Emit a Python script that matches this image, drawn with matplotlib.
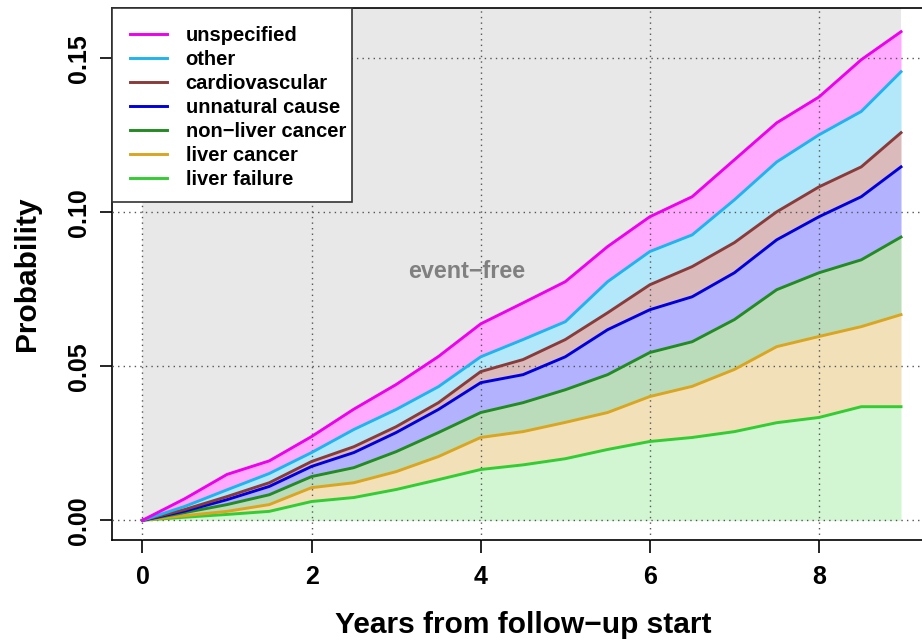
import matplotlib
matplotlib.use("Agg")
import matplotlib.pyplot as plt
from matplotlib.patches import Rectangle
import numpy as np

plt.rcParams['font.family'] = ['Liberation Sans', 'DejaVu Sans']
plt.rcParams['font.weight'] = 'bold'

years = [0, 0.5, 1, 1.5, 2, 2.5, 3, 3.5, 4, 4.5, 5, 5.5, 6, 6.5, 7, 7.5, 8, 8.5, 8.97]

# cumulative (stacked) probabilities, top of each band
liver_failure = [0, 0.0010, 0.0019, 0.0029, 0.0061, 0.0074, 0.0100, 0.0132, 0.0165, 0.0180, 0.0200,
                 0.0230, 0.0256, 0.0269, 0.0288, 0.0317, 0.0334, 0.0369, 0.0369]
liver_cancer = [0, 0.0015, 0.0029, 0.0051, 0.0106, 0.0122, 0.0158, 0.0207, 0.0269, 0.0288, 0.0318,
                0.0350, 0.0402, 0.0435, 0.0490, 0.0564, 0.0597, 0.0629, 0.0668]
non_liver_cancer = [0, 0.0025, 0.0051, 0.0083, 0.0142, 0.0171, 0.0223, 0.0285, 0.0350, 0.0382, 0.0424,
                    0.0473, 0.0545, 0.0580, 0.0652, 0.0749, 0.0804, 0.0846, 0.0920]
unnatural = [0, 0.0030, 0.0067, 0.0110, 0.0175, 0.0220, 0.0285, 0.0360, 0.0447, 0.0473, 0.0531,
             0.0619, 0.0684, 0.0726, 0.0804, 0.0911, 0.0986, 0.1051, 0.1148]
cardiovascular = [0, 0.0035, 0.0077, 0.0122, 0.0191, 0.0239, 0.0304, 0.0382, 0.0483, 0.0522, 0.0587,
                  0.0674, 0.0765, 0.0824, 0.0902, 0.1002, 0.1083, 0.1148, 0.1259]
other = [0, 0.0045, 0.0099, 0.0152, 0.0220, 0.0295, 0.0360, 0.0434, 0.0531, 0.0587, 0.0645,
         0.0775, 0.0873, 0.0927, 0.1041, 0.1164, 0.1252, 0.1328, 0.1457]
unspecified = [0, 0.0070, 0.0149, 0.0193, 0.0272, 0.0361, 0.0441, 0.0532, 0.0638, 0.0706, 0.0775,
               0.0889, 0.0986, 0.1051, 0.1171, 0.1291, 0.1375, 0.1496, 0.1587]

labels = ['liver failure', 'liver cancer', 'non\u2212liver cancer', 'unnatural cause',
          'cardiovascular', 'other', 'unspecified']
series = [liver_failure, liver_cancer, non_liver_cancer, unnatural, cardiovascular, other, unspecified]
line_colors = ['#32CD32', '#DAA520', '#228B22', '#0000DD', '#8B3A3A', '#1EB4EE', '#EE00EE']
fill_colors = ['#D2F5D2', '#F2E0B8', '#BADCBA', '#B2B2FF', '#DABABA', '#B2E8FA', '#FFAAFF']

x_ticks = [0, 2, 4, 6, 8]
y_ticks = [0.00, 0.05, 0.10, 0.15]
y_tick_labels = ['0.00', '0.05', '0.10', '0.15']

fig = plt.figure(figsize=(9.22, 6.41), dpi=100)
ax = fig.add_axes([112/922, 101/641, 822/922, 532/641])
ax.set_xlim(-0.36, 9.36)
ax.set_ylim(-0.0064, 0.1664)

t = np.array(years)
lower = np.zeros_like(t)
# event-free region
ax.fill_between(t, np.array(unspecified), 1.0, color='#E8E8E8', lw=0, zorder=1)
for s, fc in zip(series, fill_colors):
    s = np.array(s)
    ax.fill_between(t, lower, s, color=fc, lw=0, zorder=2)
    lower = s

# grid (dotted, on top of fills)
for xv in x_ticks:
    ax.axvline(xv, color='#555555', lw=1.0, ls=(0, (1, 3)), zorder=3)
for yv in y_ticks:
    ax.axhline(yv, color='#555555', lw=1.0, ls=(0, (1, 3)), zorder=3)

handles = []
for s, lc, lab in zip(series, line_colors, labels):
    h, = ax.plot(t, s, color=lc, lw=2.1, zorder=4, label=lab, solid_joinstyle='miter')
    handles.append(h)

ax.text(3.84, 0.0807, 'event\u2212free', color='#808080', fontsize=16.8, fontweight='bold',
        ha='center', va='center', zorder=5)

ax.set_xticks(x_ticks)
ax.set_xticklabels([str(v) for v in x_ticks])
ax.set_yticks(y_ticks)
ax.set_yticklabels(y_tick_labels, rotation=90, va='center')
ax.tick_params(axis='both', direction='out', length=9, width=1.2, labelsize=18, pad=9)
ax.tick_params(axis='y', pad=6)

for sp in ['left', 'bottom', 'top']:
    ax.spines[sp].set_linewidth(1.2)
ax.spines['right'].set_visible(False)

ax.set_xlabel('Years from follow\u2212up start', fontsize=21.5, fontweight='bold', labelpad=16)
ax.set_ylabel('Probability', fontsize=21.5, fontweight='bold', labelpad=19)

# legend box (R-style, tight right padding)
box = Rectangle((0, 1 - 194/532), 240/822, 194/532, transform=ax.transAxes,
                facecolor='white', edgecolor='#333333', lw=1.2, zorder=9, clip_on=False)
ax.add_patch(box)
leg = ax.legend(handles[::-1], labels[::-1], loc='upper left', bbox_to_anchor=(0, 1),
                borderaxespad=0, frameon=False,
                prop={'size': 14.5, 'weight': 'bold'}, handlelength=1.85, handletextpad=0.9,
                labelspacing=0.25, borderpad=0.9)
leg.set_zorder(10)

fig.savefig('out.png', dpi=100)
